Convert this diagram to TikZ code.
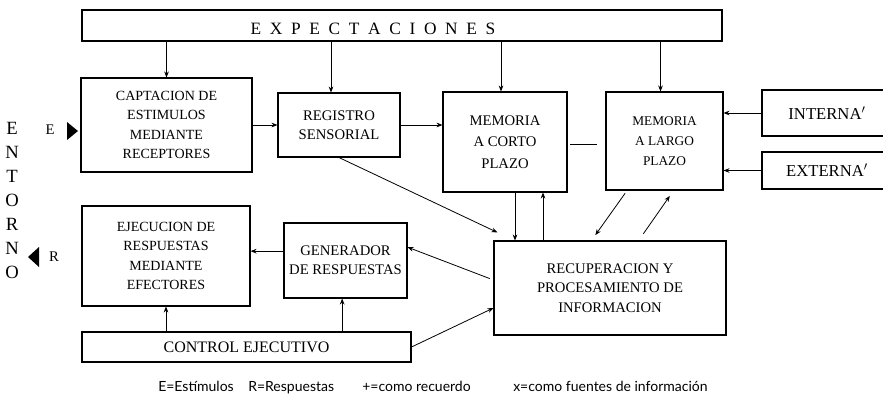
\documentclass[tikz,border=0pt]{standalone}
\usepackage{fontspec}
\setmainfont{Liberation Serif}
\newfontfamily\leyenda{Lato}
\usetikzlibrary{arrows.meta}

\newcommand{\esp}{\hspace{0.5em}}

\begin{document}
\begin{tikzpicture}[x=0.75pt, y=-0.75pt,
	caja/.style={draw, line width=0.8pt, align=center, inner sep=0pt,
		font=\fontsize{11}{14.5}\selectfont},
	flecha/.style={-{Stealth[length=4.5pt,width=3.5pt]}, line width=0.6pt},
	linea/.style={line width=0.6pt}]

	\useasboundingbox (0,0) rectangle (883,414);

	% Expectaciones
	\node[caja, minimum width=480pt, minimum height=23.25pt] (exp) at (402,25.5) {};
	\node[anchor=base, font=\fontsize{13}{15}\selectfont] (exptexto) at (373,35)
		{E\esp X\esp P\esp E\esp C\esp T\esp A\esp C\esp I\esp O\esp N\esp E\esp S};

	% Fila superior
	\node[caja, minimum width=128.25pt, minimum height=70.5pt,
		font=\fontsize{10.5}{14.5}\selectfont] (capt) at (166.5,125)
		{CAPTACION DE\\ESTIMULOS\\MEDIANTE\\RECEPTORES};
	\node[caja, minimum width=91.5pt, minimum height=48pt] (reg) at (339,125)
		{REGISTRO\\SENSORIAL};
	\node[caja, minimum width=93pt, minimum height=75pt, font=\fontsize{11}{16}\selectfont] (mcp) at (505,142)
		{MEMORIA\\A CORTO\\PLAZO};
	\node[caja, minimum width=87.75pt, minimum height=73.5pt,
		font=\fontsize{10}{15}\selectfont] (mlp) at (664.5,141)
		{MEMORIA\\A LARGO\\PLAZO};
	\node[caja, minimum width=97.5pt, minimum height=34.5pt,
		font=\fontsize{12.5}{14}\selectfont] (int) at (827,113) {INTERNA$'$};
	\node[caja, minimum width=97.5pt, minimum height=27.75pt,
		font=\fontsize{12.5}{14}\selectfont] (ext) at (827,170.5) {EXTERNA$'$};

	% Fila inferior
	\node[caja, minimum width=126pt, minimum height=75pt,
		font=\fontsize{10.5}{14.5}\selectfont] (eje) at (166,256)
		{EJECUCION DE\\RESPUESTAS\\MEDIANTE\\EFECTORES};
	\node[caja, minimum width=92.25pt, minimum height=56.25pt] (gen) at (345.5,260.5)
		{GENERADOR\\DE RESPUESTAS};
	\node[caja, minimum width=246.75pt, minimum height=22.5pt,
		font=\fontsize{12}{14}\selectfont] (ctrl) at (246.5,347)
		{CONTROL EJECUTIVO};
	\node[caja, minimum width=174pt, minimum height=70.5pt] (rec) at (610,288)
		{RECUPERACION Y\\PROCESAMIENTO DE\\INFORMACION};

	% Entorno
	\node[align=center, font=\fontsize{14}{18}\selectfont] (entorno) at (12,200)
		{E\\N\\T\\O\\R\\N\\O};
	\node[font=\fontsize{11}{13}\selectfont] (estE) at (50,130) {E};
	\fill (67,122) -- (78,131) -- (67,140) -- cycle;
	\node[font=\fontsize{11}{13}\selectfont] (resR) at (54,257) {R};
	\fill (39,247) -- (28,257) -- (39,267) -- cycle;

	% Flechas desde expectaciones
	\draw[flecha] (exp.south -| capt.north) -- (capt.north);
	\draw[flecha] ([xshift=-6pt]exp.south -| reg.north) -- ([xshift=-6pt]reg.north);
	\draw[flecha] ([xshift=-3pt]exp.south -| mcp.north) -- ([xshift=-3pt]mcp.north);
	\draw[flecha] ([xshift=-3pt]exp.south -| mlp.north) -- ([xshift=-3pt]mlp.north);

	% Flujo superior
	\draw[flecha] (capt.east) -- (reg.west);
	\draw[flecha] (reg.east) -- (reg.east -| mcp.west);
	\draw[linea, shorten <=2pt, shorten >=6pt] ([yshift=-1.5pt]mcp.east) -- ([yshift=-1.5pt]mcp.east -| mlp.west);
	\draw[flecha] (int.west) -- (int.west -| mlp.east);
	\draw[flecha] (ext.west) -- (ext.west -| mlp.east);

	% Hacia y desde recuperacion
	\draw[flecha] (reg.south) -- ([xshift=3pt,yshift=6pt]rec.north west);
	\draw[flecha] ([xshift=7.5pt]mcp.south) -- ([xshift=7.5pt]mcp.south |- rec.north);
	\draw[flecha] ([xshift=28.5pt]mcp.south |- rec.north) -- ([xshift=28.5pt]mcp.south);
	\draw[flecha] ([xshift=-29.5pt,yshift=-2pt]mlp.south) -- ([xshift=-11pt,yshift=4pt]rec.north);
	\draw[flecha] ([xshift=25pt,yshift=5pt]rec.north) -- ([xshift=4pt,yshift=-4pt]mlp.south);
	\draw[flecha, shorten <=3pt] ([yshift=6pt]rec.west) -- ([yshift=10pt]gen.east);
	\draw[flecha] (ctrl.east) -- ([yshift=-15pt]rec.west);

	% Flujo inferior
	\draw[flecha] ([yshift=7pt]gen.west) -- ([yshift=7pt]gen.west -| eje.east);
	\draw[flecha] (ctrl.north -| eje.south) -- (eje.south);
	\draw[flecha] ([xshift=-2.5pt]ctrl.north -| gen.south) -- ([xshift=-2.5pt]gen.south);

	% Leyenda
	\begin{scope}[font=\leyenda\fontsize{10.5}{12}\selectfont]
		\node[anchor=base west, inner sep=0pt] (leyE) at (158,391) {E=Estímulos};
		\node[anchor=base west, inner sep=0pt] (leyR) at (248,391) {R=Respuestas};
		\node[anchor=base west, inner sep=0pt] (leyM) at (362,391) {+=como recuerdo};
		\node[anchor=base west, inner sep=0pt] (leyX) at (513,391) {x=como fuentes de información};
	\end{scope}

\end{tikzpicture}
\end{document}
